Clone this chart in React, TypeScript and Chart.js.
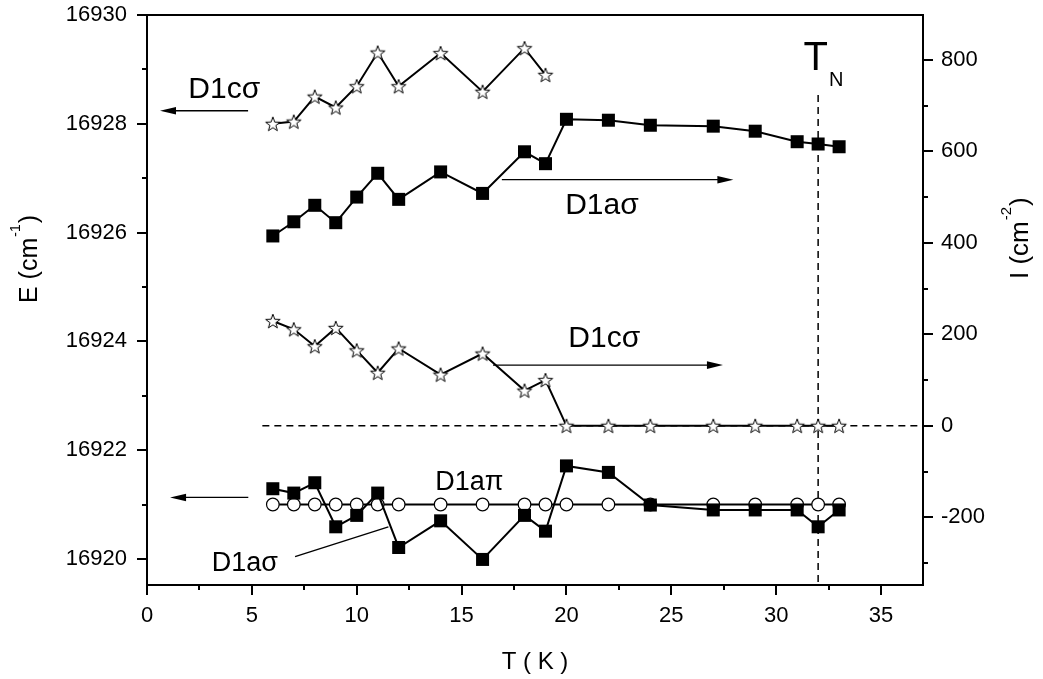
import React, { useEffect, useRef } from "react";
import { Chart, registerables } from "chart.js";

Chart.register(...registerables);

// ---------- data ----------
const T_TOP_STARS = [6, 7, 8, 9, 10, 11, 12, 14, 16, 18, 19];
const E_D1C_SIGMA = [16928.0, 16928.04, 16928.5, 16928.3, 16928.69, 16929.31, 16928.69, 16929.3, 16928.59, 16929.39, 16928.9];

const T_ALL = [6, 7, 8, 9, 10, 11, 12, 14, 16, 18, 19, 20, 22, 24, 27, 29, 31, 32, 33];
const I_D1A_SIGMA = [415, 446, 482, 444, 500, 552, 495, 555, 508, 599, 573, 670, 668, 657, 655, 644, 621, 616, 610];
const I_D1C_SIGMA = [229, 211, 174, 214, 165, 116, 169, 112, 158, 77, 100, 0, 0, 0, 0, 0, 0, 0, 0];
const E_D1A_PI = [16921, 16921, 16921, 16921, 16921, 16921, 16921, 16921, 16921, 16921, 16921, 16921, 16921, 16921, 16921, 16921, 16921, 16921, 16921];
const E_D1A_SIGMA = [16921.29, 16921.21, 16921.4, 16920.59, 16920.8, 16921.21, 16920.21, 16920.7, 16919.99, 16920.8, 16920.51, 16921.71, 16921.59, 16920.99, 16920.9, 16920.9, 16920.9, 16920.59, 16920.9];

// reference lines
const ZERO_LINE = { x1: 5.5, x2: 37, y: 0 };
const TN_LINE = { x: 32, y1: 723, y2: -348 };

// ---------- axes ----------
const X_RANGE = [0, 37];
const E_RANGE = [16919.52, 16930];
const I_RANGE = [-348, 898];
const X_TICKS = [0, 5, 10, 15, 20, 25, 30, 35];
const X_MINOR = [2.5, 7.5, 12.5, 17.5, 22.5, 27.5, 32.5];
const E_TICKS = [16920, 16922, 16924, 16926, 16928, 16930];
const E_MINOR = [16921, 16923, 16925, 16927, 16929];
const I_TICKS = [-200, 0, 200, 400, 600, 800];
const I_MINOR = [-300, -100, 100, 300, 500, 700];

// ---------- annotations (data coordinates) ----------
const LABELS = [
  { text: "D1c\u03c3", axis: "yE", x: 1.97, y: 16928.48, size: 30 },
  { text: "D1a\u03c3", axis: "yI", x: 19.94, y: 464, size: 30 },
  { text: "D1c\u03c3", axis: "yI", x: 20.09, y: 172.7, size: 30 },
  { text: "D1a\u03c0", axis: "yE", x: 13.74, y: 16921.27, size: 27 },
  { text: "D1a\u03c3", axis: "yE", x: 3.09, y: 16919.785, size: 27 },
];
const ARROWS = [
  { axis: "yE", x1: 4.82, x2: 0.62, y: 16928.24 },
  { axis: "yI", x1: 16.92, x2: 27.96, y: 538 },
  { axis: "yI", x1: 16.5, x2: 27.46, y: 132.7 },
  { axis: "yE", x1: 4.83, x2: 1.1, y: 16921.13 },
];
const LEADER = { axis: "yE", x1: 7.06, y1: 16920.04, x2: 11.51, y2: 16920.59 };
const TN_LABEL = { axis: "yI", x: 31.3, y: 777.5 };

const FONT = "Arial, 'Liberation Sans', Helvetica, sans-serif";

function makeStar(outer: number, inner: number, lw: number) {
  const size = Math.ceil(outer * 2 + lw * 2 + 2);
  const c = document.createElement("canvas");
  c.width = size;
  c.height = size;
  const g = c.getContext("2d")!;
  const cx = size / 2;
  const cy = size / 2 + outer * 0.0955;
  g.beginPath();
  for (let i = 0; i < 10; i++) {
    const r = i % 2 === 0 ? outer : inner;
    const a = -Math.PI / 2 + (i * Math.PI) / 5;
    g.lineTo(cx + r * Math.cos(a), cy + r * Math.sin(a));
  }
  g.closePath();
  g.fillStyle = "#fff";
  g.fill();
  g.lineWidth = lw;
  g.strokeStyle = "#000";
  g.stroke();
  return c;
}

const pts = (xs: number[], ys: number[]) => xs.map((x, i) => ({ x, y: ys[i] }));

export default function App() {
  const ref = useRef<HTMLCanvasElement | null>(null);

  useEffect(() => {
    document.body.style.margin = "0";
    const canvas = ref.current!;
    const star = makeStar(7.6, 3.1, 1);

    const annot = {
      id: "annot",
      afterDraw(chart: any) {
        const ctx = chart.ctx as CanvasRenderingContext2D;
        const xs = chart.scales.x;
        const sc = (a: string) => chart.scales[a];
        const { left, right, top, bottom } = chart.chartArea;
        ctx.save();
        ctx.strokeStyle = "#000";
        ctx.fillStyle = "#000";
        // frame
        ctx.lineWidth = 2;
        ctx.strokeRect(left, top, right - left, bottom - top);
        // ticks
        ctx.beginPath();
        X_TICKS.forEach((v) => { const p = Math.round(xs.getPixelForValue(v)); ctx.moveTo(p, bottom); ctx.lineTo(p, bottom + 10); });
        X_MINOR.forEach((v) => { const p = Math.round(xs.getPixelForValue(v)); ctx.moveTo(p, bottom); ctx.lineTo(p, bottom + 5); });
        E_TICKS.forEach((v) => { const p = Math.round(sc("yE").getPixelForValue(v)); ctx.moveTo(left, p); ctx.lineTo(left - 10, p); });
        E_MINOR.forEach((v) => { const p = Math.round(sc("yE").getPixelForValue(v)); ctx.moveTo(left, p); ctx.lineTo(left - 5, p); });
        I_TICKS.forEach((v) => { const p = Math.round(sc("yI").getPixelForValue(v)); ctx.moveTo(right, p); ctx.lineTo(right + 10, p); });
        I_MINOR.forEach((v) => { const p = Math.round(sc("yI").getPixelForValue(v)); ctx.moveTo(right, p); ctx.lineTo(right + 5, p); });
        ctx.stroke();

        // arrows
        ctx.lineWidth = 1.3;
        ARROWS.forEach((a) => {
          const y = sc(a.axis).getPixelForValue(a.y);
          const x1 = xs.getPixelForValue(a.x1);
          const x2 = xs.getPixelForValue(a.x2);
          const dir = x2 > x1 ? 1 : -1;
          ctx.beginPath();
          ctx.moveTo(x1, y);
          ctx.lineTo(x2 - dir * 10, y);
          ctx.stroke();
          ctx.beginPath();
          ctx.moveTo(x2, y);
          ctx.lineTo(x2 - dir * 16, y - 3.8);
          ctx.lineTo(x2 - dir * 16, y + 3.8);
          ctx.closePath();
          ctx.fill();
        });
        // leader line
        ctx.beginPath();
        ctx.moveTo(xs.getPixelForValue(LEADER.x1), sc(LEADER.axis).getPixelForValue(LEADER.y1));
        ctx.lineTo(xs.getPixelForValue(LEADER.x2), sc(LEADER.axis).getPixelForValue(LEADER.y2));
        ctx.stroke();

        // labels
        ctx.textBaseline = "alphabetic";
        ctx.textAlign = "left";
        LABELS.forEach((l) => {
          ctx.font = `${l.size}px ${FONT}`;
          ctx.fillText(l.text, xs.getPixelForValue(l.x), sc(l.axis).getPixelForValue(l.y));
        });
        // T_N
        {
          const tx = xs.getPixelForValue(TN_LABEL.x);
          const ty = sc(TN_LABEL.axis).getPixelForValue(TN_LABEL.y);
          ctx.font = `40px ${FONT}`;
          ctx.fillText("T", tx, ty);
          const w = ctx.measureText("T").width;
          ctx.font = `20px ${FONT}`;
          ctx.fillText("N", tx + w + 1, ty + 16);
        }

        // axis titles
        const drawSup = (main: string, sup: string, end: string, size: number) => {
          ctx.font = `${size}px ${FONT}`;
          ctx.fillText(main, 0, 0);
          let w = ctx.measureText(main).width;
          ctx.font = `${Math.round(size * 0.56)}px ${FONT}`;
          ctx.fillText(sup, w + 1, -size * 0.66);
          w += ctx.measureText(sup).width + 2;
          ctx.font = `${size}px ${FONT}`;
          ctx.fillText(end, w, 0);
        };
        ctx.save();
        ctx.translate(36.5, 303);
        ctx.rotate(-Math.PI / 2);
        drawSup("E (cm", "-1", ")", 25);
        ctx.restore();
        ctx.save();
        ctx.translate(1028, 279);
        ctx.rotate(-Math.PI / 2);
        drawSup("I (cm", "-2", ")", 26);
        ctx.restore();
        ctx.font = `24px ${FONT}`;
        ctx.textAlign = "center";
        ctx.textBaseline = "middle";
        ctx.fillText("T ( K )", (left + right) / 2, 662);
        ctx.restore();
      },
    };

    const lineBase = { showLine: true, borderColor: "#000", borderWidth: 2, tension: 0 };

    const fitY = (w: number) => (s: any) => { s.width = w; s.paddingTop = 0; s.paddingBottom = 0; };

    const chart = new Chart(canvas, {
      type: "scatter",
      data: {
        datasets: [
          {
            ...lineBase,
            label: "D1a\u03c3 I",
            yAxisID: "yI",
            data: pts(T_ALL, I_D1A_SIGMA),
            pointStyle: "rect",
            pointRadius: 9.2,
            pointBackgroundColor: "#000",
            pointBorderWidth: 0,
            order: 0,
          },
          {
            ...lineBase,
            label: "D1c\u03c3 E",
            yAxisID: "yE",
            data: pts(T_TOP_STARS, E_D1C_SIGMA),
            pointStyle: star,
            pointRadius: 7,
            order: 0,
          },
          {
            ...lineBase,
            label: "D1c\u03c3 I",
            yAxisID: "yI",
            data: pts(T_ALL, I_D1C_SIGMA),
            pointStyle: star,
            pointRadius: 7,
            order: 0,
          },
          {
            ...lineBase,
            label: "D1a\u03c3 E",
            yAxisID: "yE",
            data: pts(T_ALL, E_D1A_SIGMA),
            pointStyle: "rect",
            pointRadius: 9.2,
            pointBackgroundColor: "#000",
            pointBorderWidth: 0,
            order: 1,
          },
          {
            ...lineBase,
            label: "D1a\u03c0 E",
            yAxisID: "yE",
            data: pts(T_ALL, E_D1A_PI),
            pointStyle: "circle",
            pointRadius: 6.3,
            pointBackgroundColor: "#fff",
            pointBorderColor: "#000",
            pointBorderWidth: 1.2,
            order: 2,
          },
          {
            label: "zero",
            yAxisID: "yI",
            showLine: true,
            data: [{ x: ZERO_LINE.x1, y: ZERO_LINE.y }, { x: ZERO_LINE.x2, y: ZERO_LINE.y }],
            borderColor: "#000",
            borderWidth: 1.5,
            borderDash: [7, 5],
            pointRadius: 0,
            order: 5,
          },
          {
            label: "TN",
            yAxisID: "yI",
            showLine: true,
            data: [{ x: TN_LINE.x, y: TN_LINE.y1 }, { x: TN_LINE.x, y: TN_LINE.y2 }],
            borderColor: "#000",
            borderWidth: 1.5,
            borderDash: [7, 5],
            pointRadius: 0,
            order: 5,
          },
        ] as any,
      },
      options: {
        responsive: false,
        animation: false,
        devicePixelRatio: 1,
        events: [],
        layout: { padding: { top: 15, left: 0, right: 0, bottom: 0 } },
        plugins: { legend: { display: false }, tooltip: { enabled: false } },
        scales: {
          x: {
            type: "linear",
            position: "bottom",
            min: X_RANGE[0],
            max: X_RANGE[1],
            grid: { display: false, drawTicks: false, tickLength: 0 },
            border: { display: false },
            afterBuildTicks: (s: any) => { s.ticks = X_TICKS.map((v) => ({ value: v })); },
            afterFit: (s: any) => { s.height = 94; s.paddingLeft = 0; s.paddingRight = 0; },
            ticks: {
              autoSkip: false,
              maxRotation: 0,
              padding: 18,
              color: "#000",
              font: { family: FONT, size: 22 },
              callback: (v: any) => String(v),
            },
          },
          yE: {
            type: "linear",
            position: "left",
            min: E_RANGE[0],
            max: E_RANGE[1],
            grid: { display: false, drawTicks: false, tickLength: 0 },
            border: { display: false },
            afterBuildTicks: (s: any) => { s.ticks = E_TICKS.map((v) => ({ value: v })); },
            afterFit: fitY(147),
            ticks: {
              autoSkip: false,
              padding: 20,
              color: "#000",
              font: { family: FONT, size: 22 },
              callback: (v: any) => String(v),
            },
          },
          yI: {
            type: "linear",
            position: "right",
            min: I_RANGE[0],
            max: I_RANGE[1],
            grid: { display: false, drawTicks: false, tickLength: 0 },
            border: { display: false },
            afterBuildTicks: (s: any) => { s.ticks = I_TICKS.map((v) => ({ value: v })); },
            afterFit: fitY(120),
            ticks: {
              autoSkip: false,
              padding: 18,
              color: "#000",
              font: { family: FONT, size: 22 },
              callback: (v: any) => String(v),
            },
          },
        },
      } as any,
      plugins: [annot],
    });

    return () => chart.destroy();
  }, []);

  return <canvas ref={ref} width={1043} height={679} style={{ display: "block" }} />;
}
